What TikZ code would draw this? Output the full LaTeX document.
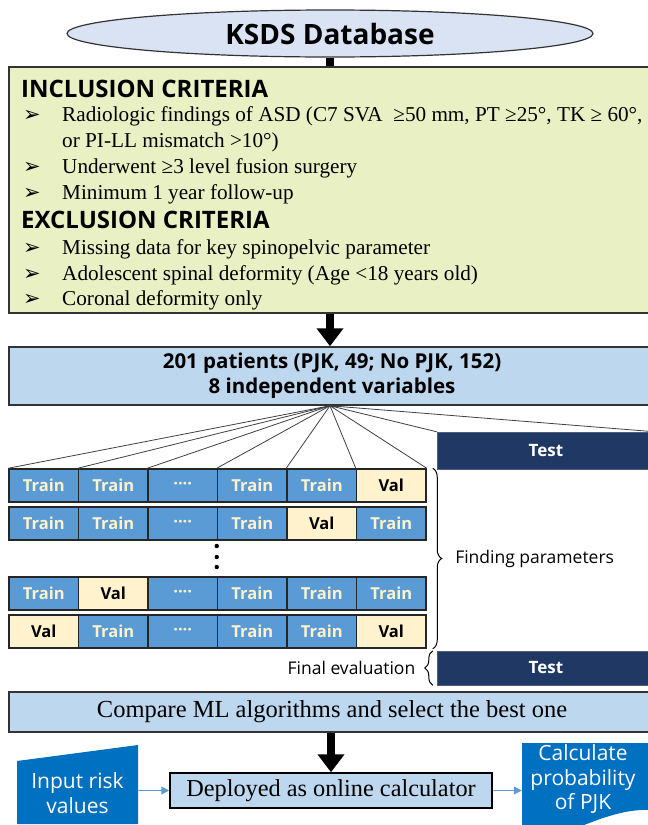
\documentclass[tikz,border=0pt]{standalone}
\usepackage{fontspec}
\setmainfont{Liberation Serif}
\setsansfont{Open Sans}
\newfontfamily\symfont{DejaVu Sans}
\usetikzlibrary{arrows.meta,positioning,shapes.geometric,decorations.pathreplacing,backgrounds}

\definecolor{dbfill}{HTML}{DAE3F3}
\definecolor{critfill}{HTML}{E8F0C4}
\definecolor{patfill}{HTML}{BDD7EE}
\definecolor{trainfill}{HTML}{5B9BD5}
\definecolor{valfill}{HTML}{FFF2CC}
\definecolor{testfill}{HTML}{203864}
\definecolor{iofill}{HTML}{0070C0}
\definecolor{linkblue}{HTML}{5B9BD5}

\begin{document}
\begin{tikzpicture}[x=1pt,y=-1pt,
  box/.style={rectangle,draw=black!80,line width=1.5pt,inner sep=0pt},
  db node/.style={ellipse,draw=black!80,line width=1.2pt,fill=dbfill,
    minimum width=526pt,minimum height=47pt,
    font=\sffamily\bfseries\fontsize{28}{32}\selectfont},
  crit head/.style={anchor=base west,inner sep=0pt,
    font=\sffamily\bfseries\fontsize{24}{28}\selectfont},
  crit text/.style={anchor=base west,inner sep=0pt,font=\fontsize{21.2}{24}\selectfont},
  bullet/.style={anchor=base west,inner sep=0pt,font=\symfont\bfseries\fontsize{21}{24}\selectfont},
  cell/.style={box,draw=black!85,minimum width=69.5pt,minimum height=33pt,
    font=\sffamily\bfseries\fontsize{16.5}{18}\selectfont},
  tr-cell/.style={cell,fill=trainfill,text=valfill,node contents=Train},
  dt-cell/.style={cell,fill=trainfill,text=valfill,node contents=····},
  vl-cell/.style={cell,fill=valfill,text=black,node contents=Val},
  test box/.style={rectangle,fill=testfill,draw=testfill!80!white,minimum width=218pt,
    text=white,font=\sffamily\bfseries\fontsize{17}{20}\selectfont},
  side text/.style={inner sep=0pt,font=\sffamily\fontsize{17.5}{20}\selectfont},
  big arrow/.style={line width=8pt,-{Triangle[width=26pt,length=18pt]}},
  thin arrow/.style={draw=linkblue,line width=1.2pt,-{Triangle[width=8pt,length=8pt]}},
  io text/.style={text=white,align=center,inner sep=0pt,
    font=\sffamily\fontsize{21}{24.5}\selectfont}]

  \useasboundingbox (0,0) rectangle (648,825);

  \node[db node] (db) at (330,33.5) {KSDS Database};
  \node[box,fill=critfill,minimum width=646pt,minimum height=246pt] (crit) at (332,190) {};
  \draw[line width=8pt] (db.south) -- (db.south |- crit.north);

  % criteria
  \node[crit head] (inc) at (21,97) {INCLUSION CRITERIA};
  \node[crit head] (exc) at (21,228) {EXCLUSION CRITERIA};
  \foreach \yy in {121,173,199,254,280,305}
    \node[bullet] (bul\yy) at (23,\yy) {➢};
  \foreach \yy/\txt in {121/{Radiologic findings of ASD (C7 SVA \ ≥50 mm, PT ≥25°, TK ≥ 60°,},
      147/{or PI-LL mismatch >10°)}, 173/{Underwent ≥3 level fusion surgery},
      199/{Minimum 1 year follow-up}, 254/{Missing data for key spinopelvic parameter},
      280/{Adolescent spinal deformity (Age <18 years old)}, 305/{Coronal deformity only}}
    \node[crit text] (ln\yy) at (62,\yy) {\txt};

  \node[box,fill=patfill,minimum width=646pt,minimum height=58pt,align=center,
    font=\sffamily\bfseries\fontsize{20.5}{25}\selectfont] (pat) at (332,376)
    {201 patients (PJK, 49; No PJK, 152)\\8 independent variables};
  \draw[big arrow] (db.south |- crit.south) -- (db.south |- pat.north);

  % cross validation folds
  \foreach \rw/\ytop/\cells in {1/469/{tr,tr,dt,tr,tr,vl}, 2/507/{tr,tr,dt,tr,vl,tr},
      3/577/{tr,vl,dt,tr,tr,tr}, 4/615/{vl,tr,dt,tr,tr,vl}}
    \foreach \s [count=\cl] in \cells
      \node[\s-cell,name=r\rw c\cl,at={({9+69.5*(\cl-0.5)},\ytop+16.5)}];
  \foreach \yy in {546,557,567}
    \fill (r2c4.south west |- 0,\yy) circle (2.2pt);

  \node[test box,minimum height=37pt] (test1) at (546,450.5) {Test};
  \node[test box,minimum height=34pt] (test2) at (546,668) {Test};

  \coordinate (fan) at (db.south |- pat.south);
  \foreach \cl in {1,...,6}
    \draw[black!75,line width=0.8pt] (fan) -- (r1c\cl.north west);
  \draw[black!75,line width=0.8pt] (fan) -- (r1c6.north east)
    (fan) -- (test1.north west) (fan) -- (test1.north east);

  \draw[line width=1pt,decorate,decoration={brace,amplitude=9pt}]
    ([xshift=6pt]r1c6.north east) -- ([xshift=6pt]r4c6.south east)
    node[side text,midway,right=22pt] (fp) {Finding parameters};
  \draw[line width=1pt,decorate,decoration={brace,amplitude=8pt}]
    ([xshift=-4pt]test2.south west) -- ([xshift=-4pt]test2.north west)
    node[side text,midway,left=17pt] (fe) {Final evaluation};

  % model selection and deployment
  \node[box,fill=patfill,minimum width=646pt,minimum height=40pt,
    font=\fontsize{24.5}{28}\selectfont] (cmp) at (332,712)
    {Compare ML algorithms and select the best one};
  \node[box,draw=black,fill=patfill,minimum width=322pt,minimum height=35pt,
    font=\fontsize{24.3}{28}\selectfont] (dep) at (331,790.5)
    {Deployed as online calculator};
  \draw[big arrow] (cmp.south -| dep.north) -- (dep.north);

  \node[io text,minimum width=121pt] (inp) at (77.5,793) {Input risk\\values};
  \node[io text,minimum width=122pt] (calc) at (583,779) {Calculate\\probability\\of PJK};
  \begin{scope}[on background layer]
    \fill[iofill] (17,761) -- (138,745) -- (138,824) -- (17,824) -- cycle;
    \fill[iofill] (522,743) -- (660,743) -- (660,811)
      .. controls (630,806) and (600,818) .. (560,835) -- (522,845) -- cycle;
  \end{scope}
  \draw[thin arrow] (dep.west -| inp.east) -- (dep.west);
  \draw[thin arrow] (dep.east) -- (dep.east -| calc.west);
\end{tikzpicture}
\end{document}
